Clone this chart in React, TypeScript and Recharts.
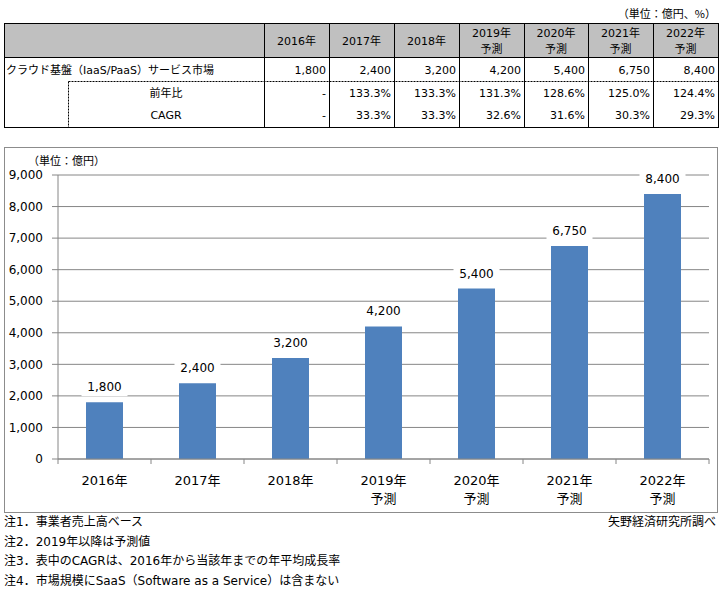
import { BarChart, Bar, XAxis, YAxis, CartesianGrid, LabelList } from "recharts";

const years = ["2016年", "2017年", "2018年", "2019年", "2020年", "2021年", "2022年"];
const forecast = [false, false, false, true, true, true, true];
const marketSize = [1800, 2400, 3200, 4200, 5400, 6750, 8400];
const yoy = ["-", "133.3%", "133.3%", "131.3%", "128.6%", "125.0%", "124.4%"];
const cagr = ["-", "33.3%", "33.3%", "32.6%", "31.6%", "30.3%", "29.3%"];
const yTicks = [0, 1000, 2000, 3000, 4000, 5000, 6000, 7000, 8000, 9000];
const notes = [
  "注1．事業者売上高ベース",
  "注2．2019年以降は予測値",
  "注3．表中のCAGRは、2016年から当該年までの年平均成長率",
  "注4．市場規模にSaaS（Software as a Service）は含まない",
];

const FONT = "'DejaVu Sans', 'Noto Sans CJK JP', sans-serif";
const JP = "'Noto Sans CJK JP', sans-serif";
const GRID = "#868686";
const BLUE = "#4f81bd";

const data = years.map((y, i) => ({ year: y, forecast: forecast[i], value: marketSize[i] }));

const fmt = (v: number) => v.toLocaleString("en-US");

// chart geometry
const CW = 712;
const CH = 364;
const M = { top: 27, right: 8, bottom: 0, left: 0 };
const YW = 53;
const XH = 53;
const band = (CW - M.left - M.right - YW) / years.length;

const XTick = (props: any) => {
  const { x, y, index, payload } = props;
  const d = data[index];
  const ay = y;
  return (
    <g>
      <line x1={x - band / 2} x2={x - band / 2} y1={ay} y2={ay + 5} stroke={GRID} />
      {index === years.length - 1 && (
        <line x1={x + band / 2} x2={x + band / 2} y1={ay} y2={ay + 5} stroke={GRID} />
      )}
      <text x={x} y={ay + 26} textAnchor="middle" fontSize={13} fill="#000" fontFamily={FONT}>
        {payload.value}
      </text>
      {d && d.forecast && (
        <text x={x} y={ay + 44} textAnchor="middle" fontSize={13} fill="#000" fontFamily={JP}>
          予測
        </text>
      )}
    </g>
  );
};

const ValueLabel = (props: any) => {
  const { x, y, width, value } = props;
  const cx = x + width / 2;
  const cy = y - 15;
  return (
    <g>
      <rect x={cx - 23} y={cy - 9} width={46} height={18} fill="#fff" />
      <text x={cx} y={cy + 4} textAnchor="middle" fontSize={12} fill="#000" fontFamily={FONT}>
        {fmt(value)}
      </text>
    </g>
  );
};

const colX = [264, 329, 394, 459, 524, 588, 653, 718];

const Table = () => (
  <svg width={724} height={135} style={{ position: "absolute", left: 0, top: 0 }}>
    <text x={716} y={18} textAnchor="end" fontSize={11} fontFamily={JP} fill="#000">
      （単位：億円、%）
    </text>
    <rect x={4.5} y={23.5} width={714} height={34} fill="#c0c0c0" />
    <rect x={4.5} y={23.5} width={714} height={104} fill="none" stroke="#000" />
    <line x1={4.5} x2={718.5} y1={57.5} y2={57.5} stroke="#000" />
    <line x1={68.5} x2={718.5} y1={81.5} y2={81.5} stroke="#000" strokeDasharray="2 1" />
    <line x1={68.5} x2={68.5} y1={81.5} y2={127.5} stroke="#000" strokeDasharray="2 1" />
    {colX.slice(0, 7).map((cx) => (
      <line key={cx} x1={cx + 0.5} x2={cx + 0.5} y1={23.5} y2={127.5} stroke="#000" />
    ))}
    {years.map((yr, i) => {
      const mid = (colX[i] + colX[i + 1]) / 2;
      const right = colX[i + 1] - 3;
      return (
        <g key={yr} fontFamily={FONT} fontSize={11} fill="#000">
          {forecast[i] ? (
            <>
              <text x={mid} y={37} textAnchor="middle">{yr}</text>
              <text x={mid} y={53} textAnchor="middle" fontFamily={JP}>予測</text>
            </>
          ) : (
            <text x={mid} y={45} textAnchor="middle">{yr}</text>
          )}
          <text x={right} y={74} textAnchor="end">{fmt(marketSize[i])}</text>
          <text x={right} y={97} textAnchor="end">{yoy[i]}</text>
          <text x={right} y={119} textAnchor="end">{cagr[i]}</text>
        </g>
      );
    })}
    <text x={6} y={74} fontSize={11} fontFamily={FONT} fill="#000">
      クラウド基盤（IaaS/PaaS）サービス市場
    </text>
    <text x={166} y={97} textAnchor="middle" fontSize={11} fontFamily={JP} fill="#000">
      前年比
    </text>
    <text x={166} y={119} textAnchor="middle" fontSize={11} fontFamily={FONT} fill="#000">
      CAGR
    </text>
  </svg>
);

export default function App() {
  return (
    <div
      style={{
        position: "absolute",
        left: 0,
        top: 0,
        width: 724,
        height: 593,
        background: "#fff",
        fontFamily: FONT,
      }}
    >
      <Table />
      <div
        style={{
          position: "absolute",
          left: 4,
          top: 147,
          width: CW + 2,
          height: CH + 2,
          border: "1px solid #8c8c8c",
          boxSizing: "border-box",
        }}
      />
      <div style={{ position: "absolute", left: 5, top: 148 }}>
        <BarChart width={CW} height={CH} data={data} margin={M}>
          <CartesianGrid vertical={false} stroke={GRID} />
          <XAxis
            dataKey="year"
            height={XH}
            tickLine={false}
            axisLine={{ stroke: GRID }}
            tick={<XTick />}
            interval={0}
            tickSize={0}
            tickMargin={0}
          />
          <YAxis
            width={YW}
            domain={[0, 9000]}
            ticks={yTicks}
            interval={0}
            tickFormatter={fmt}
            axisLine={{ stroke: GRID }}
            tickLine={{ stroke: GRID }}
            tickSize={6}
            tickMargin={9}
            tick={{ fill: "#000", fontSize: 12, fontFamily: FONT }}
          />
          <Bar dataKey="value" fill={BLUE} barSize={37} isAnimationActive={false}>
            <LabelList dataKey="value" content={<ValueLabel />} />
          </Bar>
        </BarChart>
      </div>
      <div
        style={{
          position: "absolute",
          left: 28,
          top: 152,
          fontSize: 11,
          fontFamily: JP,
          color: "#000",
          whiteSpace: "nowrap",
        }}
      >
        （単位：億円）
      </div>
      {notes.map((n, i) => (
        <div
          key={n}
          style={{
            position: "absolute",
            left: 4,
            top: 512 + i * 19.5,
            fontSize: 12,
            fontFamily: FONT,
            color: "#000",
            whiteSpace: "nowrap",
          }}
        >
          {n}
        </div>
      ))}
      <div
        style={{
          position: "absolute",
          right: 8,
          top: 512,
          fontSize: 12,
          fontFamily: JP,
          color: "#000",
          whiteSpace: "nowrap",
        }}
      >
        矢野経済研究所調べ
      </div>
    </div>
  );
}
